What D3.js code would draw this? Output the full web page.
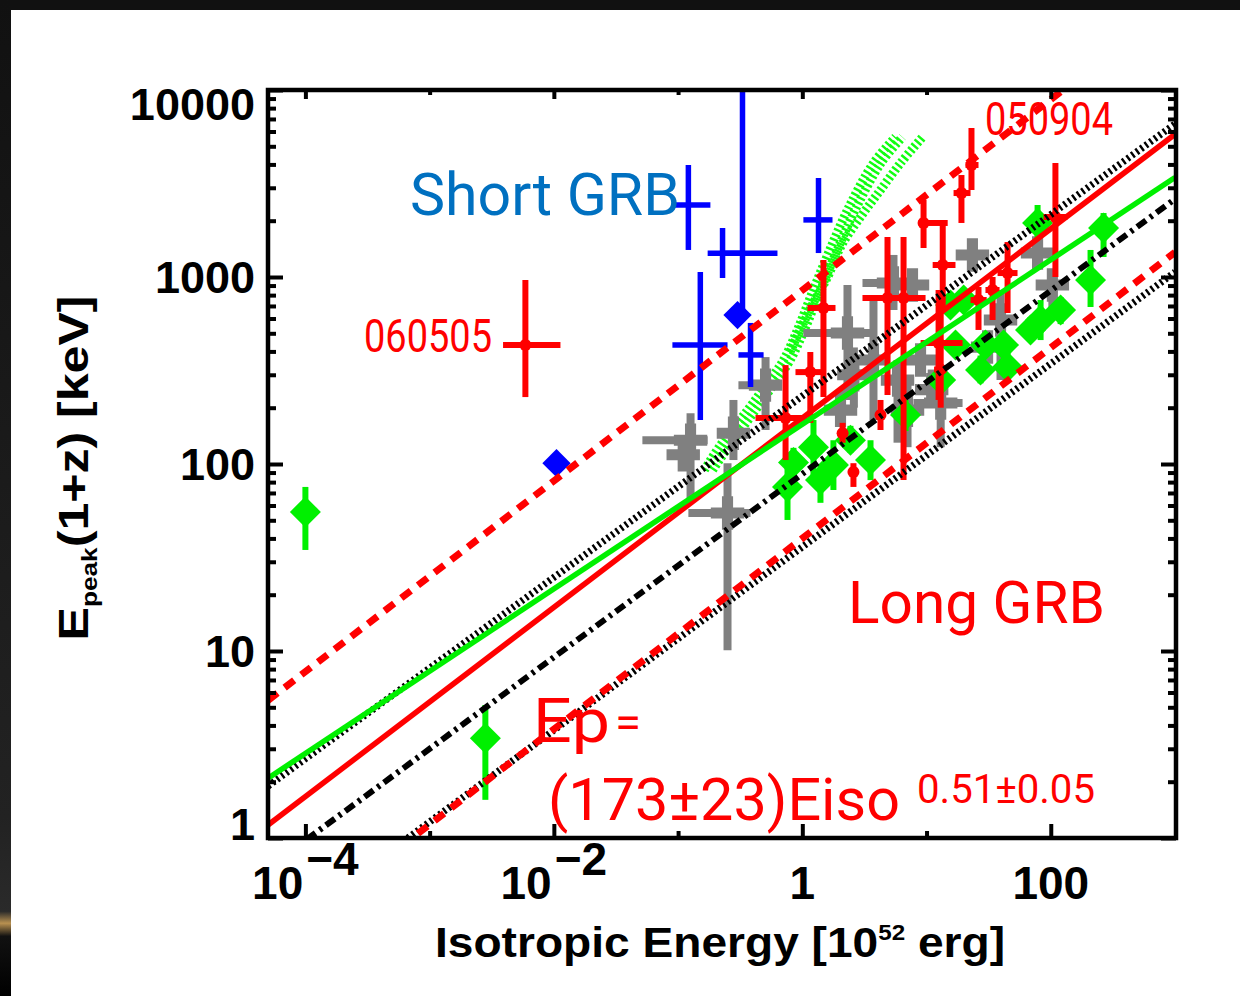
<!DOCTYPE html>
<html><head><meta charset="utf-8">
<script src="https://cdn.jsdelivr.net/npm/d3@7"></script>
<style>html,body{margin:0;padding:0;background:#fff;overflow:hidden}</style>
</head><body><svg id="c" width="1240" height="996"></svg>
<script>
// ---------------- DATA ----------------
const xDomain = [5e-5, 1e3];
const yDomain = [1, 1e4];
const xMajorTicks = [1e-4, 1e-2, 1, 100];
const xMinorTicks = [1e-3, 1e-1, 10];
const xTickBase = ['10', '10', '1', '100'];
const xTickExp = ['\u22124', '\u22122', '', ''];
const yMajorTicks = [1, 10, 100, 1000, 10000];
const yTickLabels = ['1', '10', '100', '1000', '10000'];

// straight relations Ep = K * Eiso^a
const fitNames = ['blackUpper', 'blackLower', 'blackCenter', 'redUpper', 'redLower', 'redFit', 'greenFit'];
const fitNorm  = [231, 36, 88.5, 850, 40, 176, 163];
const fitIndex = [0.485, 0.49, 0.49, 0.51, 0.51, 0.506, 0.44];

// green hatched model curves
const curveAE  = [0.163, 0.219, 0.362, 0.525, 0.706, 0.914, 1.19, 1.60, 2.31, 3.74, 5.63];
const curveAEp = [92.9, 126, 194, 271, 360, 521, 811, 1312, 2281, 4070, 5605];
const curveA2E  = [0.19, 0.26, 0.42, 0.60, 0.80, 1.04, 1.36, 1.84, 2.66, 4.3, 6.4];
const curveA2Ep = [92.9, 126, 194, 271, 360, 521, 811, 1312, 2281, 4070, 5605];
const curveBE  = [0.80, 1.19, 1.60, 2.03, 2.94, 4.26, 6.18, 9.29];
const curveBEp = [400, 700, 1000, 1446, 2093, 2919, 4070, 5605];

// short GRBs (blue crosses)
const blueE    = [0.121, 0.228, 0.33, 0.151, 0.383, 1.35];
const blueEp   = [2430, 1340, 1340, 433, 383, 2020];
const blueELo  = [0.092, 0.173, 0.228, 0.090, 0.306, 1.02];
const blueEHi  = [0.182, 0.318, 0.631, 0.25, 0.488, 1.75];
const bluePLo  = [1395, 988, 666, 172, 258, 1343];
const bluePHi  = [3972, 1828, 20000, 1063, 568, 3383];
// short GRBs (blue diamonds)
const blueDiaE  = [0.0105, 0.301];
const blueDiaEp = [101, 626];

// red crosses
const redE   = [0.0059, 23.0, 19.1, 9.46, 13.5, 12.5, 109, 44.9, 34.0, 26.2, 4.85, 6.53, 1.48, 0.733, 1.16, 4.26, 2.11, 2.58, 13.0];
const redEp  = [433, 3972, 2812, 1945, 1159, 444, 2093, 1050, 852, 753, 772, 772, 683, 176, 310, 183, 146, 90.6, 320];
const redELo = [0.0039, 20.6, 16.5, 8.63, 11.2, 8.96, 87.5, 37.3, 29.8, 22.6, 3.05, 5.13, 1.10, 0.420, 0.881, 4.1, 2.05, 2.5, 11.5];
const redEHi = [0.0113, 26.2, 22.6, 14.8, 17.1, 19.5, 136, 54, 38.7, 30.5, 9.82, 8.15, 1.85, 1.10, 1.46, 4.4, 2.2, 2.7, 14.5];
const redPLo = [228, 2919, 1945, 1429, 666, 220, 1000, 642, 589, 521, 234, 82, 228, 105, 166, 152, 130, 75.4, 200];
const redPHi = [964, 6265, 3510, 2582, 1945, 852, 4070, 1538, 1000, 884, 1637, 1637, 1233, 338, 397, 220, 166, 101, 700];

// gray crosses
const grayE   = [0.126, 0.110, 0.25, 0.279, 0.506, 2.31, 2.03, 5.84, 5.42, 23.4, 78.3, 103, 7.71, 8.95, 13.0, 39.4, 7.03, 3.74, 31.0, 2.6, 11.0];
const grayEp  = [134, 112, 54.7, 146, 264, 502, 194, 281, 929, 1312, 1343, 906, 906, 360, 212, 589, 194, 360, 422, 300, 250];
const grayELo = [0.0516, 0.10, 0.121, 0.26, 0.306, 1.02, 1.54, 5.5, 3.05, 21, 70, 95, 7.2, 8.3, 7.85, 36, 6.6, 3.5, 29, 2.3, 10];
const grayEHi = [0.173, 0.12, 0.383, 0.30, 0.631, 3.54, 2.54, 6.2, 7.03, 26, 86, 112, 8.2, 9.6, 19.5, 43, 7.5, 4.0, 33, 2.9, 12];
const grayPLo = [64.2, 100, 10.1, 105, 152, 220, 158, 130, 666, 1150, 1200, 666, 800, 300, 123, 281, 123, 172, 380, 200, 200];
const grayPHi = [187, 125, 101, 220, 373, 906, 249, 360, 1312, 1500, 1500, 1000, 1020, 430, 281, 852, 281, 753, 470, 420, 320];

// green diamonds
const greenE   = [1e-4, 0.00281, 0.760, 1.23, 1.78, 3.54, 0.849, 2.44, 27.2, 44.9, 82.8, 120, 78.3, 209, 266, 17.1, 13.0, 6.78, 19.9, 68.7, 15.6, 29.8, 41.7, 1.40];
const greenEp  = [55.4, 3.42, 75.4, 123, 98.8, 105, 102, 134, 318, 330, 589, 666, 1945, 964, 1828, 433, 281, 183, 753, 521, 708, 433, 433, 82];
const greenPLo = [34.7, 1.6, 50.2, 82, 72.6, 82, 85, 115, 270, 280, 460, 560, 1578, 691, 1279, 380, 240, 150, 650, 450, 620, 380, 380, 62];
const greenPHi = [75.4, 5.14, 101, 172, 134, 134, 122, 160, 380, 400, 753, 780, 2427, 1395, 2198, 500, 330, 220, 870, 610, 800, 500, 500, 100];

// ---------------- DRAWING ----------------
const svg = d3.select('#c');
const L = 268, R = 1176, T = 90, B = 838;
const x = d3.scaleLog().domain(xDomain).range([L, R - 1]);
const y = d3.scaleLog().domain(yDomain).range([B, T]);

const defs = svg.append('defs');
const g1 = defs.append('linearGradient').attr('id', 'side').attr('x1', 0).attr('x2', 0).attr('y1', 0).attr('y2', 1);
[[0, '#111'], [0.82, '#222'], [0.915, '#2a2a2a'], [0.927, '#b89050'], [0.94, '#111'], [1, '#000']]
  .forEach(s => g1.append('stop').attr('offset', s[0]).attr('stop-color', s[1]));
defs.append('clipPath').attr('id', 'plot').append('rect')
  .attr('x', L).attr('y', T).attr('width', R - L).attr('height', B - T);

svg.append('rect').attr('width', 1240).attr('height', 996).attr('fill', '#fff');
svg.append('rect').attr('width', 1240).attr('height', 10).attr('fill', '#111');
svg.append('rect').attr('width', 11).attr('height', 996).attr('fill', 'url(#side)');

const plot = svg.append('g').attr('clip-path', 'url(#plot)');

// hatched green model curves
const curveLine = d3.line().x(d => x(d[0])).y(d => y(d[1])).curve(d3.curveCatmullRom);
[[curveAE, curveAEp], [curveA2E, curveA2Ep], [curveBE, curveBEp]].forEach(c => {
  plot.append('path').datum(d3.zip(c[0], c[1])).attr('d', curveLine)
    .attr('fill', 'none').attr('stroke', '#11ff11').attr('stroke-width', 9)
    .attr('stroke-dasharray', '2.4,2.6');
});

function errorBars(g, E, Ep, ELo, EHi, PLo, PHi, color, w) {
  E.forEach((e, i) => {
    if (ELo && ELo[i] != null) g.append('line').attr('x1', x(ELo[i])).attr('x2', x(EHi[i]))
      .attr('y1', y(Ep[i])).attr('y2', y(Ep[i])).attr('stroke', color).attr('stroke-width', w);
    if (PLo && PLo[i] != null) g.append('line').attr('x1', x(e)).attr('x2', x(e))
      .attr('y1', y(PLo[i])).attr('y2', y(PHi[i])).attr('stroke', color).attr('stroke-width', w);
  });
}

// gray
const gGray = plot.append('g');
errorBars(gGray, grayE, grayEp, grayELo, grayEHi, grayPLo, grayPHi, '#808080', 8);
gGray.selectAll('path').data(d3.zip(grayE, grayEp)).join('path')
  .attr('d', d3.symbol(d3.symbolCross, 620)).attr('fill', '#808080')
  .attr('transform', d => `translate(${x(d[0])},${y(d[1])})`);

// green
const gGreen = plot.append('g');
errorBars(gGreen, greenE, greenEp, null, null, greenPLo, greenPHi, '#00f000', 6);
gGreen.selectAll('path').data(d3.zip(greenE, greenEp)).join('path')
  .attr('d', d3.symbol(d3.symbolSquare, 480)).attr('fill', '#00f000')
  .attr('transform', d => `translate(${x(d[0])},${y(d[1])}) rotate(45)`);

// red
const gRed = plot.append('g');
errorBars(gRed, redE, redEp, redELo, redEHi, redPLo, redPHi, '#ff0000', 6);
gRed.selectAll('circle').data(d3.zip(redE, redEp)).join('circle')
  .attr('cx', d => x(d[0])).attr('cy', d => y(d[1])).attr('r', 6).attr('fill', '#ff0000');

// blue
const gBlue = plot.append('g');
errorBars(gBlue, blueE, blueEp, blueELo, blueEHi, bluePLo, bluePHi, '#0000ff', 5.5);
gBlue.selectAll('path').data(d3.zip(blueDiaE, blueDiaEp)).join('path')
  .attr('d', d3.symbol(d3.symbolSquare, 400)).attr('fill', '#0000ff')
  .attr('transform', d => `translate(${x(d[0])},${y(d[1])}) rotate(45)`);

// straight relations
const fitStyle = {
  blackUpper:  {stroke: '#000', w: 7, dash: '2.4,3.2'},
  blackLower:  {stroke: '#000', w: 7, dash: '2.4,3.2'},
  blackCenter: {stroke: '#000', w: 6, dash: '11,5,3,5'},
  redUpper:    {stroke: '#ff0000', w: 7, dash: '12,9'},
  redLower:    {stroke: '#ff0000', w: 7, dash: '12,9'},
  redFit:      {stroke: '#ff0000', w: 5.5, dash: null},
  greenFit:    {stroke: '#00f000', w: 5.5, dash: null}
};
const rel = d3.line().x(d => x(d[0])).y(d => y(d[1]));
fitNames.forEach((n, i) => {
  const pts = xDomain.map(e => [e, fitNorm[i] * Math.pow(e, fitIndex[i])]);
  const s = fitStyle[n];
  plot.append('path').datum(pts).attr('d', rel).attr('fill', 'none')
    .attr('stroke', s.stroke).attr('stroke-width', s.w)
    .attr('stroke-dasharray', s.dash);
});

// axes (ticks inward)
const yMinor = [];
yMajorTicks.slice(0, -1).forEach(d => { for (let k = 2; k <= 9; k++) yMinor.push(d * k); });
function tickAxis(axisFn, scale, vals, size, tr) {
  const g = svg.append('g').attr('transform', tr)
    .call(axisFn(scale).tickValues(vals).tickSize(-size).tickFormat(''));
  g.select('.domain').remove();
  g.selectAll('line').attr('stroke', '#000').attr('stroke-width', 4);
}
tickAxis(d3.axisLeft, y, yMajorTicks, 15, `translate(${L},0)`);
tickAxis(d3.axisLeft, y, yMinor, 8, `translate(${L},0)`);
tickAxis(d3.axisRight, y, yMajorTicks, 15, `translate(${R},0)`);
tickAxis(d3.axisRight, y, yMinor, 8, `translate(${R},0)`);
tickAxis(d3.axisBottom, x, xMajorTicks, 14, `translate(0,${B})`);
tickAxis(d3.axisBottom, x, xMinorTicks, 7, `translate(0,${B})`);
tickAxis(d3.axisTop, x, xMajorTicks, 9, `translate(0,${T})`);
tickAxis(d3.axisTop, x, xMinorTicks, 5, `translate(0,${T})`);

svg.append('rect').attr('x', L).attr('y', T).attr('width', R - L).attr('height', B - T)
  .attr('fill', 'none').attr('stroke', '#000').attr('stroke-width', 4.5);

// tick labels
const bold = "'Liberation Sans', Arial, sans-serif";
svg.append('g').selectAll('text').data(yMajorTicks).join('text')
  .attr('x', 255).attr('y', d => Math.min(Math.max(y(d), T + 14), B - 14))
  .attr('text-anchor', 'end').attr('dominant-baseline', 'central')
  .attr('font-family', bold).attr('font-weight', 'bold').attr('font-size', 45)
  .text((d, i) => yTickLabels[i]);

const xl = svg.append('g').selectAll('text').data(xMajorTicks).join('text')
  .attr('x', d => x(d)).attr('y', 899).attr('text-anchor', 'middle')
  .attr('font-family', bold).attr('font-weight', 'bold').attr('font-size', 46);
xl.append('tspan').text((d, i) => xTickBase[i]);
xl.append('tspan').attr('dy', -24).attr('dx', 3).text((d, i) => xTickExp[i]);

// axis titles
const xt = svg.append('text').attr('x', 720).attr('y', 957).attr('text-anchor', 'middle')
  .attr('font-family', bold).attr('font-weight', 'bold').attr('font-size', 42)
  .attr('textLength', 570).attr('lengthAdjust', 'spacingAndGlyphs');
xt.append('tspan').text('Isotropic Energy [10');
xt.append('tspan').attr('font-size', 22).attr('dy', -17).text('52');
xt.append('tspan').attr('dy', 17).text(' erg]');

const yt = svg.append('text').attr('transform', 'translate(88,468) rotate(-90)')
  .attr('text-anchor', 'middle')
  .attr('font-family', bold).attr('font-weight', 'bold').attr('font-size', 42)
  .attr('textLength', 345).attr('lengthAdjust', 'spacingAndGlyphs');
yt.append('tspan').text('E');
yt.append('tspan').attr('font-size', 22).attr('dy', 9).text('peak');
yt.append('tspan').attr('dy', -9).text('(1+z) [keV]');

// annotations
const ann = "Roboto, 'Noto Sans', sans-serif";
function note(t, px, py, size, color, len) {
  svg.append('text').attr('x', px).attr('y', py).attr('font-family', ann)
    .attr('font-size', size).attr('fill', color)
    .attr('textLength', len).attr('lengthAdjust', 'spacingAndGlyphs').text(t);
}
note('Short GRB', 410, 215, 60, '#0070c0', 270);
note('060505', 364, 352, 47, '#ff0000', 128);
note('050904', 985, 135, 47, '#ff0000', 128);
note('Long GRB', 848, 623, 60, '#ff0000', 257);
note('Ep', 533, 742, 62, '#ff0000', 77);
note('=', 615, 738, 44, '#ff0000', 26);
note('(173\u00b123)Eiso', 548, 820, 60, '#ff0000', 352);
note('0.51\u00b10.05', 917, 803, 40, '#ff0000', 178);
</script></body></html>
